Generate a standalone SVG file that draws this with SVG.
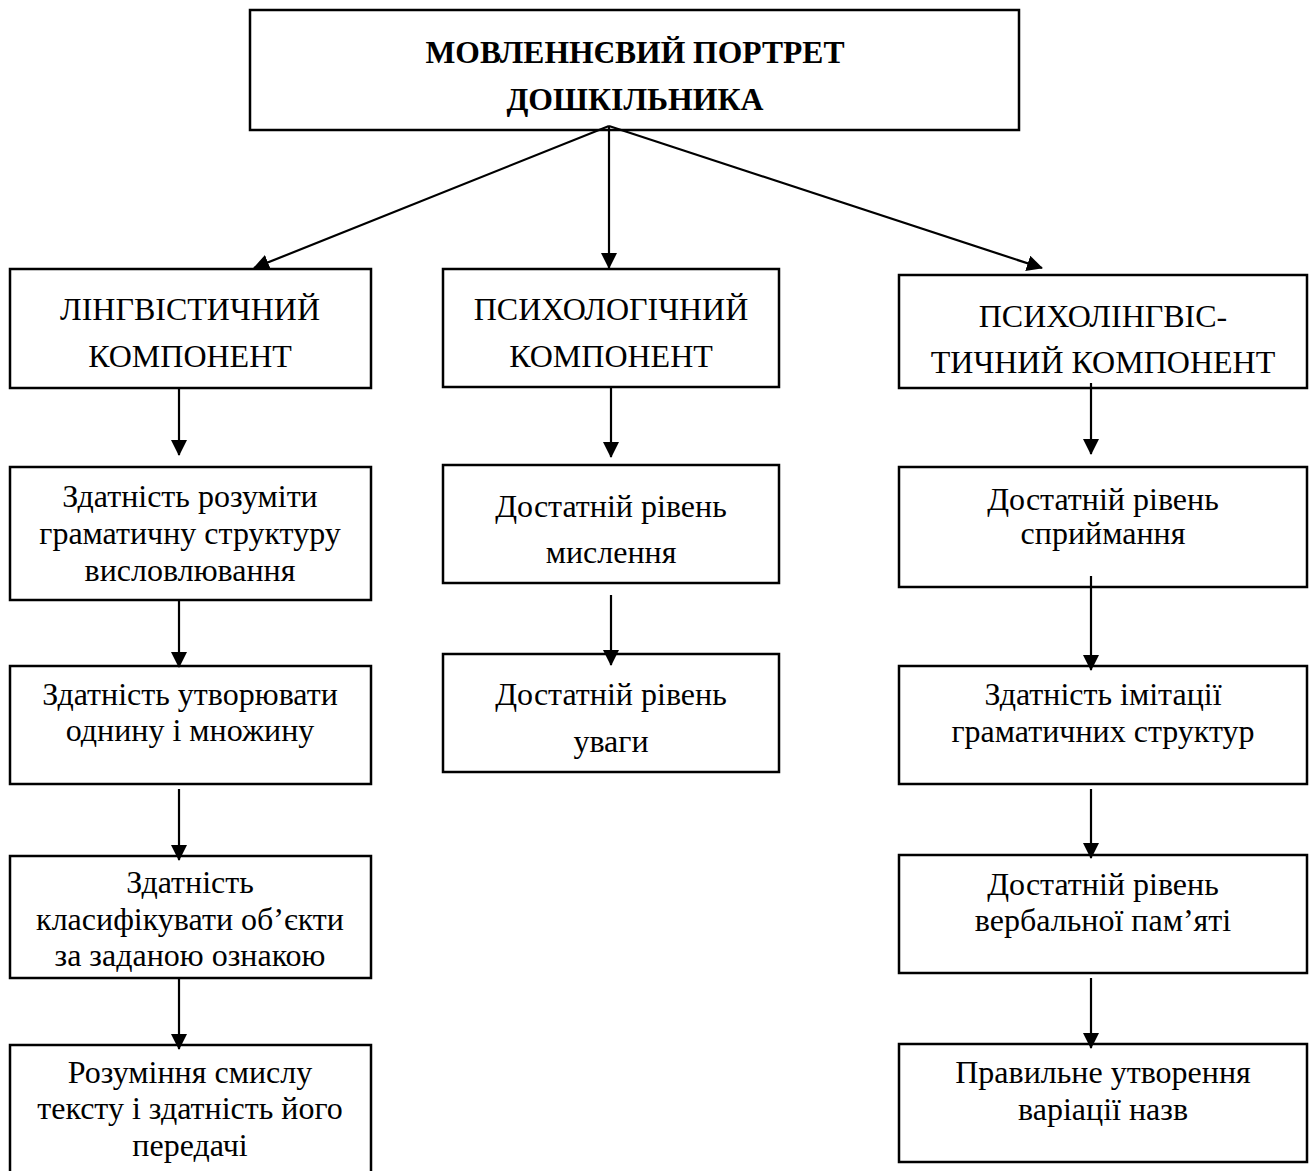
<svg xmlns="http://www.w3.org/2000/svg" width="1315" height="1171" viewBox="0 0 1315 1171">
<defs>
<marker id="ah" markerWidth="16" markerHeight="16" viewBox="0 0 16 16" refX="15" refY="8" orient="auto" markerUnits="userSpaceOnUse">
<path d="M0,0 L16,8 L0,16 Z" fill="#000"/>
</marker>
<style>
.box{fill:#fff;stroke:#000;stroke-width:2.5}
text{font-family:'Liberation Serif',serif;font-size:32px;fill:#000;text-anchor:middle}
.b{font-weight:bold}
.c line{stroke:#000;stroke-width:2.2;marker-end:url(#ah)}
</style>
</defs>
<rect width="1315" height="1171" fill="#fff"/>
<g id="n0"><rect class="box" x="250" y="10" width="769" height="120"/>
<text class="b" x="635" y="63" textLength="419" lengthAdjust="spacingAndGlyphs">МОВЛЕННЄВИЙ ПОРТРЕТ</text>
<text class="b" x="635" y="110" textLength="257" lengthAdjust="spacingAndGlyphs">ДОШКІЛЬНИКА</text></g>
<g id="n1"><rect class="box" x="10" y="269" width="361" height="119"/>
<text x="190" y="320">ЛІНГВІСТИЧНИЙ</text>
<text x="190" y="367">КОМПОНЕНТ</text></g>
<g id="n2"><rect class="box" x="443" y="269" width="336" height="118"/>
<text x="611" y="320">ПСИХОЛОГІЧНИЙ</text>
<text x="611" y="367">КОМПОНЕНТ</text></g>
<g id="n3"><rect class="box" x="899" y="275" width="408" height="113"/>
<text x="1103" y="327">ПСИХОЛІНГВІС-</text>
<text x="1103" y="373">ТИЧНИЙ КОМПОНЕНТ</text></g>
<g id="n4"><rect class="box" x="10" y="467" width="361" height="133"/>
<text x="190" y="507">Здатність розуміти</text>
<text x="190" y="544">граматичну структуру</text>
<text x="190" y="581">висловлювання</text></g>
<g id="n5"><rect class="box" x="10" y="666" width="361" height="118"/>
<text x="190" y="705">Здатність утворювати</text>
<text x="190" y="741">однину і множину</text></g>
<g id="n6"><rect class="box" x="10" y="856" width="361" height="122"/>
<text x="190" y="893">Здатність</text>
<text x="190" y="930">класифікувати об’єкти</text>
<text x="190" y="966">за заданою ознакою</text></g>
<g id="n7"><rect class="box" x="10" y="1045" width="361" height="140"/>
<text x="190" y="1083">Розуміння смислу</text>
<text x="190" y="1119">тексту і здатність його</text>
<text x="190" y="1156">передачі</text></g>
<g id="n8"><rect class="box" x="443" y="465" width="336" height="118"/>
<text x="611" y="517">Достатній рівень</text>
<text x="611" y="563">мислення</text></g>
<g id="n9"><rect class="box" x="443" y="654" width="336" height="118"/>
<text x="611" y="705">Достатній рівень</text>
<text x="611" y="752">уваги</text></g>
<g id="n10"><rect class="box" x="899" y="467" width="408" height="120"/>
<text x="1103" y="510">Достатній рівень</text>
<text x="1103" y="544">сприймання</text></g>
<g id="n11"><rect class="box" x="899" y="666" width="408" height="118"/>
<text x="1103" y="705">Здатність імітації</text>
<text x="1103" y="742">граматичних структур</text></g>
<g id="n12"><rect class="box" x="899" y="855" width="408" height="118"/>
<text x="1103" y="895">Достатній рівень</text>
<text x="1103" y="931">вербальної пам’яті</text></g>
<g id="n13"><rect class="box" x="899" y="1044" width="408" height="118"/>
<text x="1103" y="1083">Правильне утворення</text>
<text x="1103" y="1120">варіації назв</text></g>
<g id="connectors" class="c">
<line x1="609" y1="126" x2="254" y2="268"/>
<line x1="609" y1="126" x2="609" y2="268"/>
<line x1="609" y1="126" x2="1042" y2="268"/>
<line x1="179" y1="388" x2="179" y2="455"/>
<line x1="179" y1="600" x2="179" y2="667"/>
<line x1="179" y1="789" x2="179" y2="860"/>
<line x1="179" y1="978" x2="179" y2="1049"/>
<line x1="611" y1="387" x2="611" y2="457"/>
<line x1="611" y1="595" x2="611" y2="665"/>
<line x1="1091" y1="383" x2="1091" y2="454"/>
<line x1="1091" y1="576" x2="1091" y2="670"/>
<line x1="1091" y1="789" x2="1091" y2="858"/>
<line x1="1091" y1="978" x2="1091" y2="1048"/>
</g>
</svg>
